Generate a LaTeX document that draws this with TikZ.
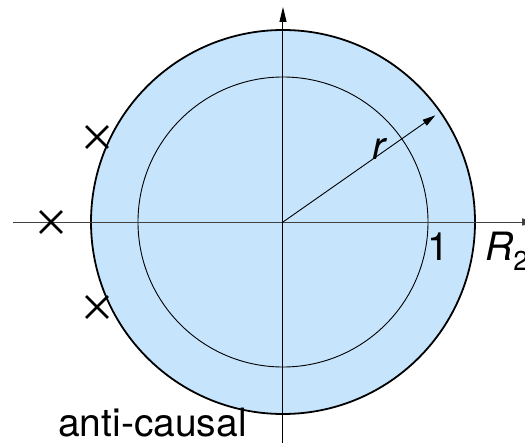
\documentclass[tikz,border=0pt]{standalone}
\usepackage{fontspec}
\setmainfont{TeX Gyre Heros}
\usepackage{xcolor}
\usetikzlibrary{arrows.meta,shapes.misc}
\definecolor{regionblue}{RGB}{198,229,252}

\begin{document}
\begin{tikzpicture}[
  x=1pt,y=1pt,
  axis/.style={line width=1pt,-{Triangle[length=15pt,width=7pt]}},
  pole/.style={cross out,draw,line width=2.8pt,minimum size=19pt,inner sep=0pt},
  lbl/.style={inner sep=0pt,font=\fontsize{39}{42}\selectfont}
]
\useasboundingbox (-283,-220) rectangle (242,222);
% region of convergence
\fill[regionblue] (0,0) circle (192);
\draw[line width=1.8pt] (0,0) circle (192);
\draw[line width=0.9pt] (0,0) circle (145);
% axes
\coordinate (o) at (0,0);
\coordinate (xl) at (-270,0);
\coordinate (xr) at (254,0);
\coordinate (yb) at (0,-230);
\coordinate (yt) at (0,215);
\draw[axis,black!75] (xl) -- (xr);
\draw[axis] (yb) -- (yt);
% radius
\coordinate (rr) at (35:186);
\draw[line width=0.9pt,-{Triangle[length=13pt,width=7pt]}] (o) -- (rr);
\node[lbl] (r) at (97,73) {\textit{r}};
% poles
\node[pole] (p1) at (-186,85) {};
\node[pole] (p2) at (-232,0) {};
\node[pole] (p3) at (-186,-85) {};
% labels
\node[lbl,anchor=base west] (one) at (144,-38) {1};
\node[lbl,anchor=base west] (R2) at (202,-38) {\textit{R}\textsubscript{2}};
\node[lbl,anchor=base west] (ac) at (-225,-214) {anti-causal};
\end{tikzpicture}
\end{document}
